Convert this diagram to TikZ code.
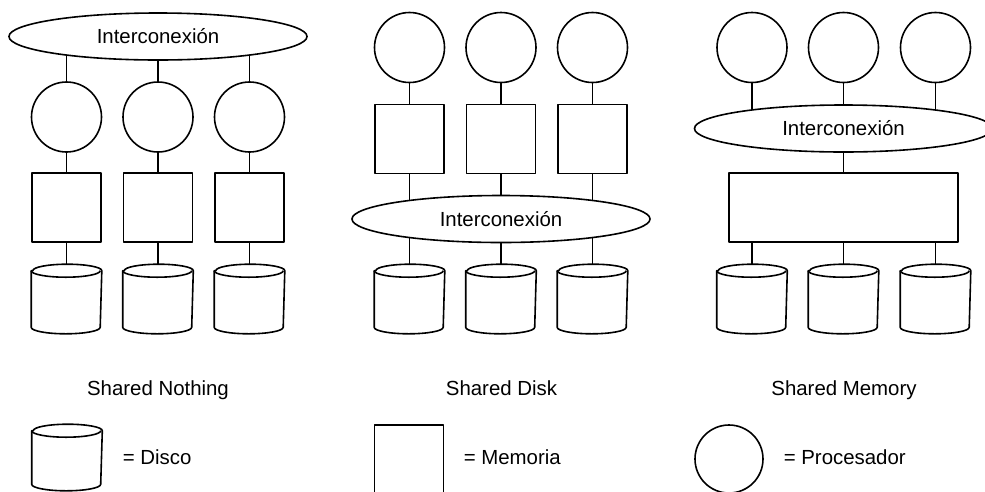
\documentclass[tikz,border=0pt]{standalone}
\usepackage{fontspec}
\setmainfont{Liberation Sans}
\usetikzlibrary{shapes.geometric,backgrounds}

% disk outline round a (not drawn) disk node
\newcommand{\diskshape}[1]{%
	\filldraw[fill=white] ([yshift=-6.5pt]#1.north west) -- ([yshift=6.5pt]#1.south west)
		arc[start angle=180,end angle=360,x radius=34.5pt,y radius=6.5pt]
		-- ([yshift=-6.5pt]#1.north east)
		arc[start angle=0,end angle=180,x radius=34.5pt,y radius=6.5pt] -- cycle;
	\draw ([yshift=-6.5pt]#1.north west)
		arc[start angle=180,end angle=360,x radius=34.5pt,y radius=6.5pt];}

\begin{document}
\begin{tikzpicture}
		[x=1pt,y=-1pt,line width=1.6pt,line join=round,
		font=\fontsize{20.4}{24}\selectfont,
		%Styles
		proc/.style={circle,draw,fill=white,minimum size=70pt,inner sep=0pt},
		mem/.style={rectangle,draw,fill=white,minimum width=69pt,minimum height=69pt,inner sep=0pt},
		disk/.style={rectangle,minimum width=69pt,minimum height=68pt,inner sep=0pt},
		bus/.style={ellipse,draw,fill=white,minimum width=298pt,minimum height=47pt,inner sep=0pt},
		link/.style={draw,black,line width=1.6pt},
		caption/.style={anchor=base,inner sep=0pt},
		legend text/.style={anchor=base west,inner sep=0pt}
		]
		
		\path[use as bounding box,clip] (0,0) rectangle (985,491);
		
		%Shared Nothing
		\node[bus] (sn-bus) at (158,36.5) {Interconexión};
		\foreach \i/\x in {1/66.5,2/158,3/249.5} {
			\node[proc] (sn-p\i) at (\x,117) {};
			\node[mem] (sn-m\i) at (\x,207.5) {};
			\node[disk] (sn-d\i) at (\x,299) {};
			\diskshape{sn-d\i}
		}
		\node[caption] (sn-label) at (158,395) {Shared Nothing};
		
		%Shared Disk
		\foreach \i/\x in {1/409.5,2/501,3/592.5} {
			\node[proc] (sd-p\i) at (\x,47.5) {};
			\node[mem] (sd-m\i) at (\x,139) {};
			\node[disk] (sd-d\i) at (\x,299) {};
			\diskshape{sd-d\i}
		}
		\node[bus] (sd-bus) at (501,219) {Interconexión};
		\node[caption] (sd-label) at (501.5,395) {Shared Disk};
		
		%Shared Memory
		\foreach \i/\x in {1/752,2/843.5,3/935.5} {
			\node[proc] (sm-p\i) at (\x,47.5) {};
			\node[disk] (sm-d\i) at (\x,299) {};
			\diskshape{sm-d\i}
		}
		\node[bus] (sm-bus) at (843.5,128.5) {Interconexión};
		\node[mem,minimum width=229pt] (sm-mem) at (843.5,207.5) {};
		\node[caption] (sm-label) at (844,395) {Shared Memory};
		
		%Legend
		\node[disk,minimum height=65pt] (key-disk) at (67,457.5) {};
		\diskshape{key-disk}
		\node[legend text] (key-disk-text) at (122,464) {= Disco};
		\node[mem] (key-mem) at (409,459.5) {};
		\node[legend text] (key-mem-text) at (463,464) {= Memoria};
		\node[proc,minimum size=68pt] (key-proc) at (729,459) {};
		\node[legend text] (key-proc-text) at (783,464) {= Procesador};
		
		%Links
		\begin{scope}[on background layer,every path/.style=link]
			\foreach \i in {1,2,3} {
				\draw (sn-p\i |- sn-bus) -- (sn-p\i) -- (sn-m\i) -- (sn-d\i);
				\draw (sd-p\i) -- (sd-m\i) -- (sd-d\i);
				\draw (sm-p\i) -- (sm-p\i |- sm-bus);
				\draw (sm-d\i) -- (sm-d\i |- sm-mem);
			}
			\draw (sm-bus) -- (sm-mem);
		\end{scope}
	\end{tikzpicture}
\end{document}
